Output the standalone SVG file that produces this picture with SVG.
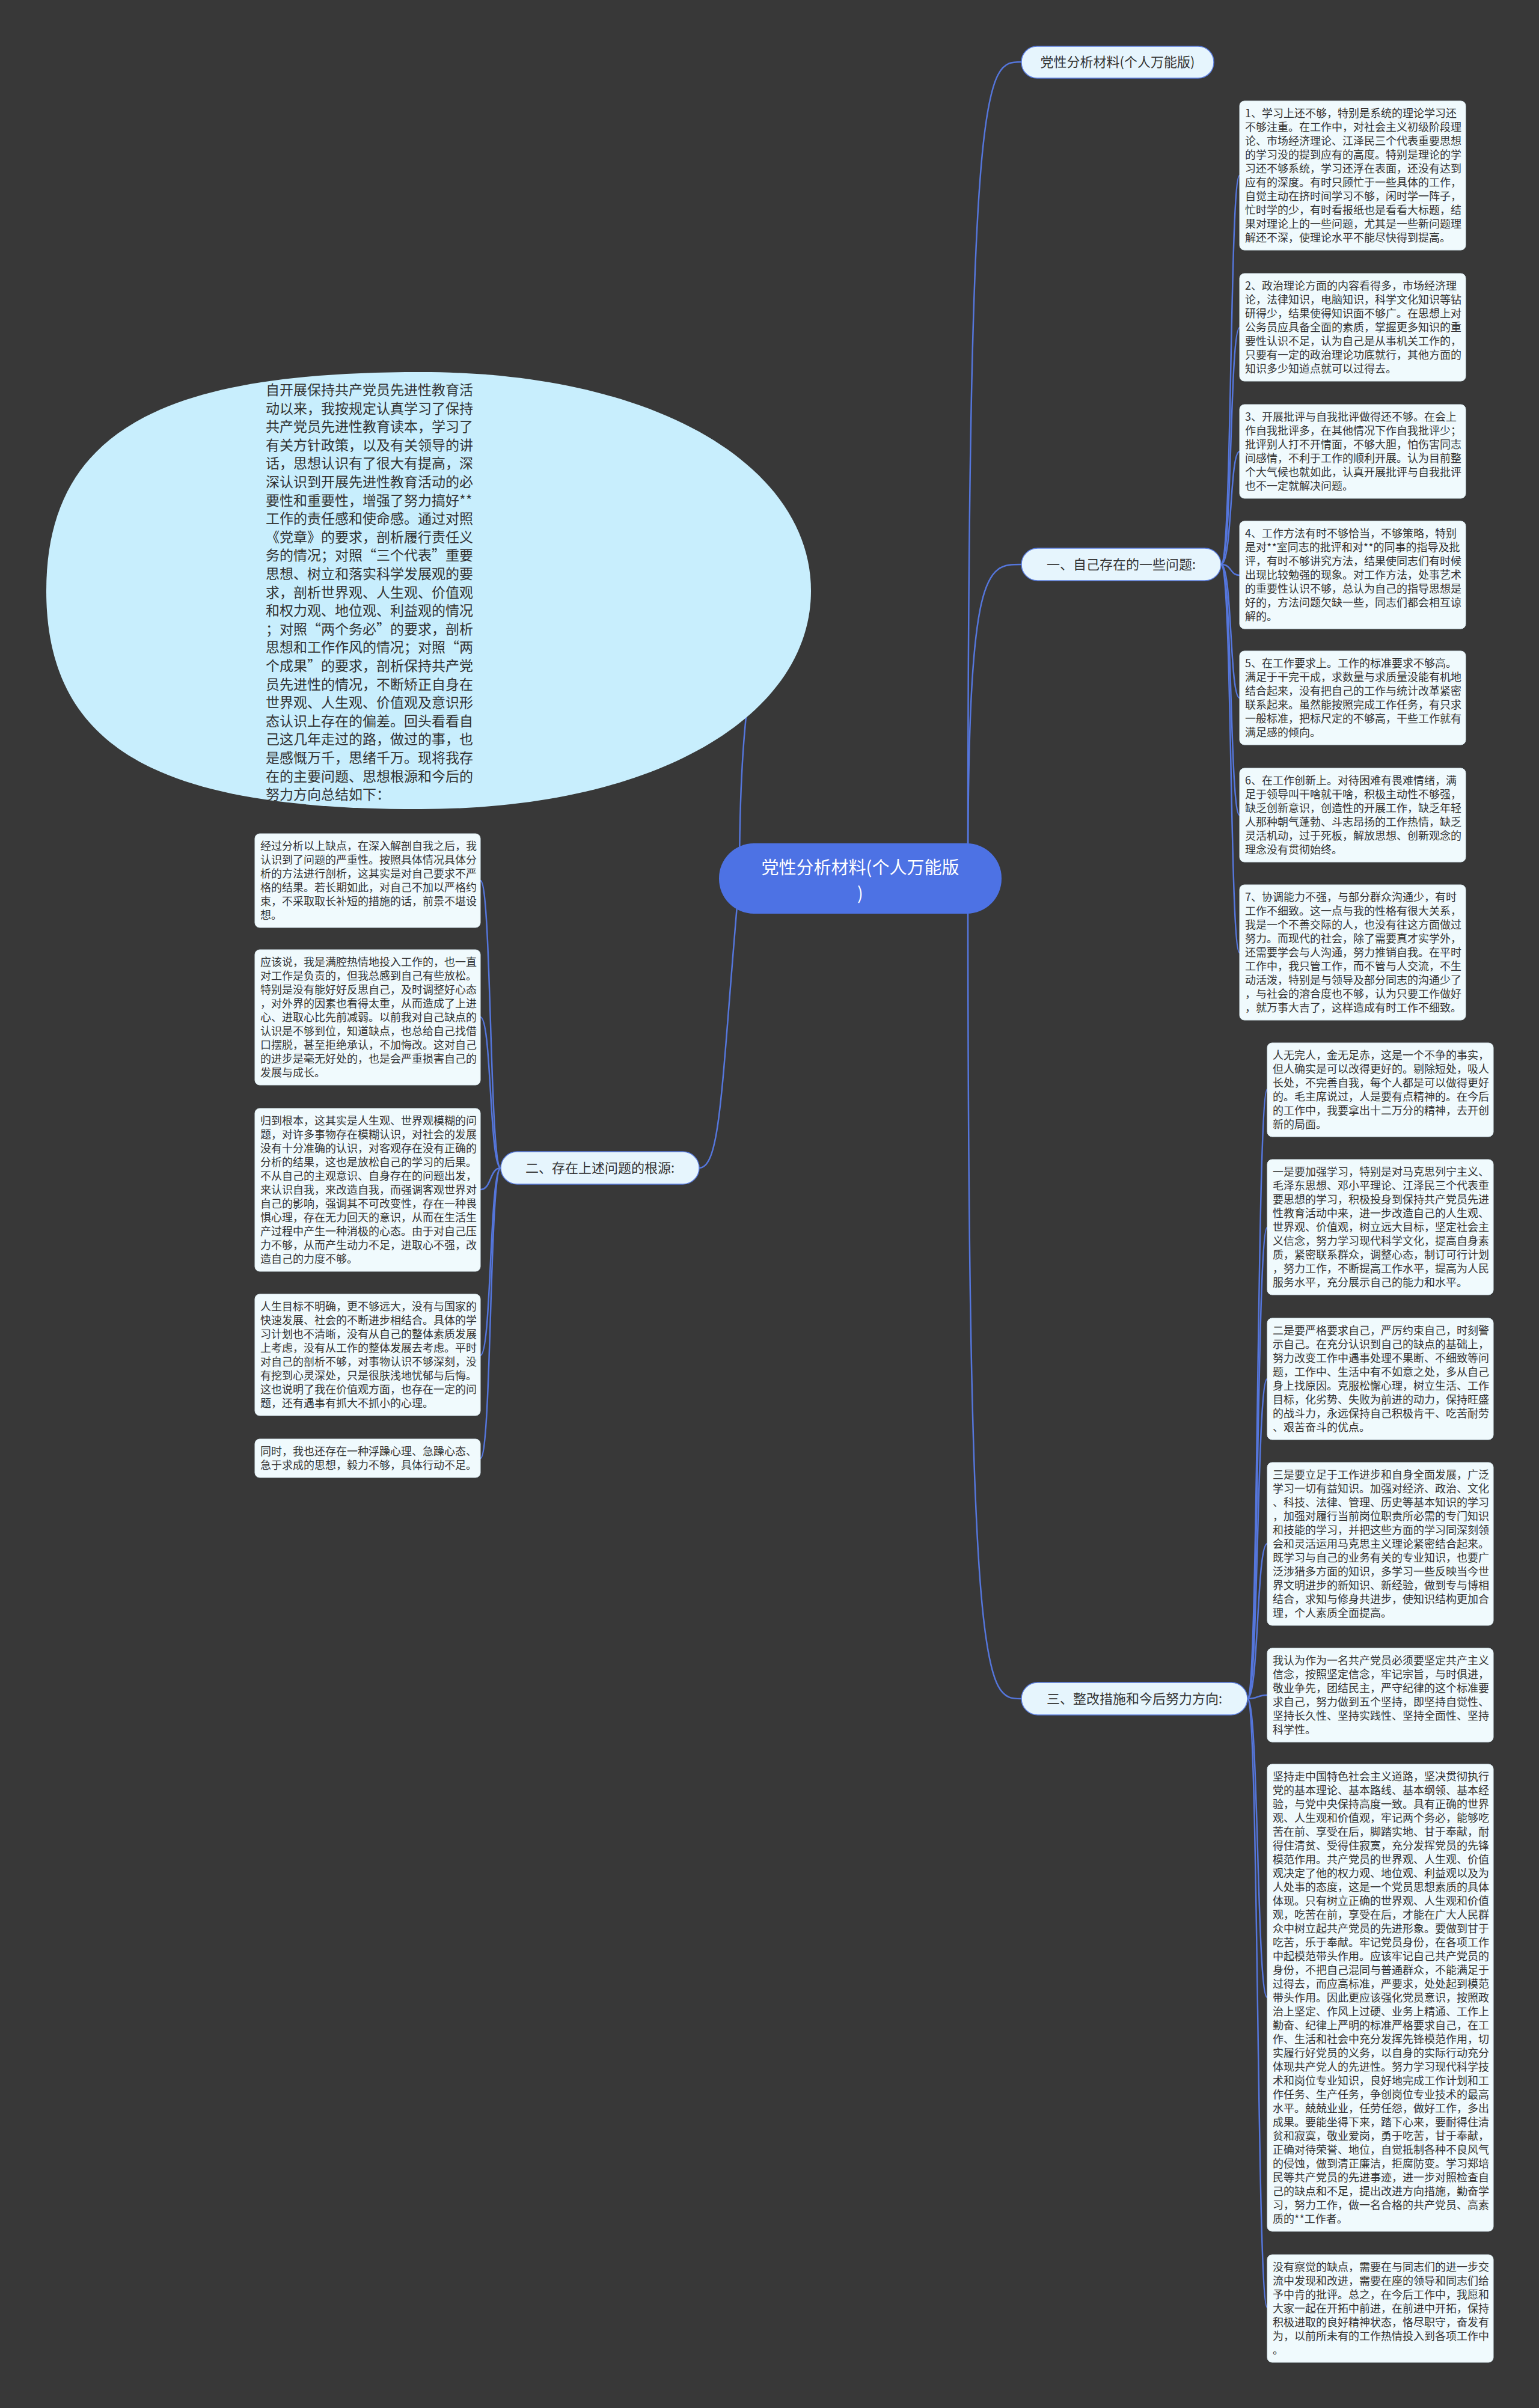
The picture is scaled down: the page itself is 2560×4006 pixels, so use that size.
<svg xmlns="http://www.w3.org/2000/svg" width="2560" height="4006" viewBox="0 0 2560 4006">
<style>
.bg{fill:#383838}
.box{fill:#f0fafd;stroke:#dcebf2;stroke-width:1}
.t{font-family:"Noto Sans CJK SC","Noto Sans",sans-serif;font-size:18px;fill:#333}
.et{font-family:"Noto Sans CJK SC","Noto Sans",sans-serif;font-size:23px;fill:#333}
.lab{fill:#e6f5fd;stroke:#5b7ee0;stroke-width:1.5}
.lt{font-family:"Noto Sans CJK SC","Noto Sans",sans-serif;font-size:22px;fill:#333}
.ct{font-family:"Noto Sans CJK SC","Noto Sans",sans-serif;font-size:29px;fill:#fff}
.c{fill:none;stroke:#5576dc;stroke-width:2.5}
</style>
<rect class="bg" x="0" y="0" width="2560" height="4006"/>
<g id="connectors">
<path class="c" d="M1610 1461 C1610 103,1640 103,1699 103"/>
<path class="c" d="M1610 1461 C1610 939,1640 939,1699 939"/>
<path class="c" d="M1610 1461 C1610 2826,1640 2826,1699 2826"/>
<path class="c" d="M1230 1461 C1200 1800,1200 1943,1163 1943"/>
<path class="c" d="M1230 1461 C1230 983,1300 983,1349 983"/>
<path class="c" d="M2031 939 C2050 939,2045 292,2062 292"/>
<path class="c" d="M2031 939 C2050 939,2045 545,2062 545"/>
<path class="c" d="M2031 939 C2050 939,2045 751,2062 751"/>
<path class="c" d="M2031 939 C2050 939,2045 957,2062 957"/>
<path class="c" d="M2031 939 C2050 939,2045 1161,2062 1161"/>
<path class="c" d="M2031 939 C2050 939,2045 1356,2062 1356"/>
<path class="c" d="M2031 939 C2050 939,2045 1585,2062 1585"/>
<path class="c" d="M2075 2826 C2094 2826,2090 1812,2108 1812"/>
<path class="c" d="M2075 2826 C2094 2826,2090 2042,2108 2042"/>
<path class="c" d="M2075 2826 C2094 2826,2090 2294,2108 2294"/>
<path class="c" d="M2075 2826 C2094 2826,2090 2568,2108 2568"/>
<path class="c" d="M2075 2826 C2094 2826,2090 2820,2108 2820"/>
<path class="c" d="M2075 2826 C2094 2826,2090 3323,2108 3323"/>
<path class="c" d="M2075 2826 C2094 2826,2090 3839,2108 3839"/>
<path class="c" d="M833 1943 C814 1943,818 1465,799 1465"/>
<path class="c" d="M833 1943 C814 1943,818 1692,799 1692"/>
<path class="c" d="M833 1943 C814 1943,818 1979,799 1979"/>
<path class="c" d="M833 1943 C814 1943,818 2255,799 2255"/>
<path class="c" d="M833 1943 C814 1943,818 2426,799 2426"/>
</g>
<g id="root">
<rect x="1196" y="1403" width="470" height="117" rx="58" fill="#4d72e4"/>
<text class="ct" x="1431" y="1454" text-anchor="middle">党性分析材料(个人万能版</text>
<text class="ct" x="1431" y="1497" text-anchor="middle">)</text>
</g>
<g id="intro">
<path d="M77 983 C77 700,300 619,700 619 C1100 619,1349 780,1349 983 C1349 1186,1100 1346,700 1346 C300 1346,77 1266,77 983 Z" fill="#c8eefd"/>
<text class="et" x="442" y="657">
<tspan x="442" dy="0">自开展保持共产党员先进性教育活</tspan>
<tspan x="442" dy="30.6">动以来，我按规定认真学习了保持</tspan>
<tspan x="442" dy="30.6">共产党员先进性教育读本，学习了</tspan>
<tspan x="442" dy="30.6">有关方针政策，以及有关领导的讲</tspan>
<tspan x="442" dy="30.6">话，思想认识有了很大有提高，深</tspan>
<tspan x="442" dy="30.6">深认识到开展先进性教育活动的必</tspan>
<tspan x="442" dy="30.6">要性和重要性，增强了努力搞好**</tspan>
<tspan x="442" dy="30.6">工作的责任感和使命感。通过对照</tspan>
<tspan x="442" dy="30.6">《党章》的要求，剖析履行责任义</tspan>
<tspan x="442" dy="30.6">务的情况；对照“三个代表”重要</tspan>
<tspan x="442" dy="30.6">思想、树立和落实科学发展观的要</tspan>
<tspan x="442" dy="30.6">求，剖析世界观、人生观、价值观</tspan>
<tspan x="442" dy="30.6">和权力观、地位观、利益观的情况</tspan>
<tspan x="442" dy="30.6">；对照“两个务必”的要求，剖析</tspan>
<tspan x="442" dy="30.6">思想和工作作风的情况；对照“两</tspan>
<tspan x="442" dy="30.6">个成果”的要求，剖析保持共产党</tspan>
<tspan x="442" dy="30.6">员先进性的情况，不断矫正自身在</tspan>
<tspan x="442" dy="30.6">世界观、人生观、价值观及意识形</tspan>
<tspan x="442" dy="30.6">态认识上存在的偏差。回头看看自</tspan>
<tspan x="442" dy="30.6">己这几年走过的路，做过的事，也</tspan>
<tspan x="442" dy="30.6">是感慨万千，思绪千万。现将我存</tspan>
<tspan x="442" dy="30.6">在的主要问题、思想根源和今后的</tspan>
<tspan x="442" dy="30.6">努力方向总结如下：</tspan>
</text>
</g>
<g id="label-top">
<rect class="lab" x="1699" y="77" width="320" height="53" rx="26"/>
<text class="lt" x="1859" y="111" text-anchor="middle">党性分析材料(个人万能版)</text>
</g>
<g id="label-1">
<rect class="lab" x="1699" y="912" width="332" height="54" rx="27"/>
<text class="lt" x="1865" y="947" text-anchor="middle">一、自己存在的一些问题:</text>
</g>
<g id="label-2">
<rect class="lab" x="833" y="1916" width="330" height="54" rx="27"/>
<text class="lt" x="998" y="1951" text-anchor="middle">二、存在上述问题的根源:</text>
</g>
<g id="label-3">
<rect class="lab" x="1699" y="2799" width="376" height="54" rx="27"/>
<text class="lt" x="1887" y="2834" text-anchor="middle">三、整改措施和今后努力方向:</text>
</g>
<g id="b1">
<rect class="box" x="2062" y="168" width="376" height="248" rx="8"/>
<text class="t" x="2071" y="195">
<tspan x="2071" dy="0">1、学习上还不够，特别是系统的理论学习还</tspan>
<tspan x="2071" dy="23">不够注重。在工作中，对社会主义初级阶段理</tspan>
<tspan x="2071" dy="23">论、市场经济理论、江泽民三个代表重要思想</tspan>
<tspan x="2071" dy="23">的学习没的提到应有的高度。特别是理论的学</tspan>
<tspan x="2071" dy="23">习还不够系统，学习还浮在表面，还没有达到</tspan>
<tspan x="2071" dy="23">应有的深度。有时只顾忙于一些具体的工作，</tspan>
<tspan x="2071" dy="23">自觉主动在挤时间学习不够，闲时学一阵子，</tspan>
<tspan x="2071" dy="23">忙时学的少，有时看报纸也是看看大标题，结</tspan>
<tspan x="2071" dy="23">果对理论上的一些问题，尤其是一些新问题理</tspan>
<tspan x="2071" dy="23">解还不深，使理论水平不能尽快得到提高。</tspan>
</text>
</g>
<g id="b2">
<rect class="box" x="2062" y="455" width="376" height="179" rx="8"/>
<text class="t" x="2071" y="482">
<tspan x="2071" dy="0">2、政治理论方面的内容看得多，市场经济理</tspan>
<tspan x="2071" dy="23">论，法律知识，电脑知识，科学文化知识等钻</tspan>
<tspan x="2071" dy="23">研得少，结果使得知识面不够广。在思想上对</tspan>
<tspan x="2071" dy="23">公务员应具备全面的素质，掌握更多知识的重</tspan>
<tspan x="2071" dy="23">要性认识不足，认为自己是从事机关工作的，</tspan>
<tspan x="2071" dy="23">只要有一定的政治理论功底就行，其他方面的</tspan>
<tspan x="2071" dy="23">知识多少知道点就可以过得去。</tspan>
</text>
</g>
<g id="b3">
<rect class="box" x="2062" y="673" width="376" height="156" rx="8"/>
<text class="t" x="2071" y="700">
<tspan x="2071" dy="0">3、开展批评与自我批评做得还不够。在会上</tspan>
<tspan x="2071" dy="23">作自我批评多，在其他情况下作自我批评少；</tspan>
<tspan x="2071" dy="23">批评别人打不开情面，不够大胆，怕伤害同志</tspan>
<tspan x="2071" dy="23">间感情，不利于工作的顺利开展。认为目前整</tspan>
<tspan x="2071" dy="23">个大气候也就如此，认真开展批评与自我批评</tspan>
<tspan x="2071" dy="23">也不一定就解决问题。</tspan>
</text>
</g>
<g id="b4">
<rect class="box" x="2062" y="867" width="376" height="179" rx="8"/>
<text class="t" x="2071" y="894">
<tspan x="2071" dy="0">4、工作方法有时不够恰当，不够策略，特别</tspan>
<tspan x="2071" dy="23">是对**室同志的批评和对**的同事的指导及批</tspan>
<tspan x="2071" dy="23">评，有时不够讲究方法，结果使同志们有时候</tspan>
<tspan x="2071" dy="23">出现比较勉强的现象。对工作方法，处事艺术</tspan>
<tspan x="2071" dy="23">的重要性认识不够，总认为自己的指导思想是</tspan>
<tspan x="2071" dy="23">好的，方法问题欠缺一些，同志们都会相互谅</tspan>
<tspan x="2071" dy="23">解的。</tspan>
</text>
</g>
<g id="b5">
<rect class="box" x="2062" y="1083" width="376" height="156" rx="8"/>
<text class="t" x="2071" y="1110">
<tspan x="2071" dy="0">5、在工作要求上。工作的标准要求不够高。</tspan>
<tspan x="2071" dy="23">满足于干完干成，求数量与求质量没能有机地</tspan>
<tspan x="2071" dy="23">结合起来，没有把自己的工作与统计改革紧密</tspan>
<tspan x="2071" dy="23">联系起来。虽然能按照完成工作任务，有只求</tspan>
<tspan x="2071" dy="23">一般标准，把标尺定的不够高，干些工作就有</tspan>
<tspan x="2071" dy="23">满足感的倾向。</tspan>
</text>
</g>
<g id="b6">
<rect class="box" x="2062" y="1278" width="376" height="156" rx="8"/>
<text class="t" x="2071" y="1305">
<tspan x="2071" dy="0">6、在工作创新上。对待困难有畏难情绪，满</tspan>
<tspan x="2071" dy="23">足于领导叫干啥就干啥，积极主动性不够强，</tspan>
<tspan x="2071" dy="23">缺乏创新意识，创造性的开展工作，缺乏年轻</tspan>
<tspan x="2071" dy="23">人那种朝气蓬勃、斗志昂扬的工作热情，缺乏</tspan>
<tspan x="2071" dy="23">灵活机动，过于死板，解放思想、创新观念的</tspan>
<tspan x="2071" dy="23">理念没有贯彻始终。</tspan>
</text>
</g>
<g id="b7">
<rect class="box" x="2062" y="1472" width="376" height="225" rx="8"/>
<text class="t" x="2071" y="1499">
<tspan x="2071" dy="0">7、协调能力不强，与部分群众沟通少，有时</tspan>
<tspan x="2071" dy="23">工作不细致。这一点与我的性格有很大关系，</tspan>
<tspan x="2071" dy="23">我是一个不善交际的人，也没有往这方面做过</tspan>
<tspan x="2071" dy="23">努力。而现代的社会，除了需要真才实学外，</tspan>
<tspan x="2071" dy="23">还需要学会与人沟通，努力推销自我。在平时</tspan>
<tspan x="2071" dy="23">工作中，我只管工作，而不管与人交流，不生</tspan>
<tspan x="2071" dy="23">动活泼，特别是与领导及部分同志的沟通少了</tspan>
<tspan x="2071" dy="23">，与社会的溶合度也不够，认为只要工作做好</tspan>
<tspan x="2071" dy="23">，就万事大吉了，这样造成有时工作不细致。</tspan>
</text>
</g>
<g id="b8">
<rect class="box" x="2108" y="1735" width="376" height="156" rx="8"/>
<text class="t" x="2117" y="1762">
<tspan x="2117" dy="0">人无完人，金无足赤，这是一个不争的事实，</tspan>
<tspan x="2117" dy="23">但人确实是可以改得更好的。剔除短处，吸人</tspan>
<tspan x="2117" dy="23">长处，不完善自我，每个人都是可以做得更好</tspan>
<tspan x="2117" dy="23">的。毛主席说过，人是要有点精神的。在今后</tspan>
<tspan x="2117" dy="23">的工作中，我要拿出十二万分的精神，去开创</tspan>
<tspan x="2117" dy="23">新的局面。</tspan>
</text>
</g>
<g id="b9">
<rect class="box" x="2108" y="1929" width="376" height="225" rx="8"/>
<text class="t" x="2117" y="1956">
<tspan x="2117" dy="0">一是要加强学习，特别是对马克思列宁主义、</tspan>
<tspan x="2117" dy="23">毛泽东思想、邓小平理论、江泽民三个代表重</tspan>
<tspan x="2117" dy="23">要思想的学习，积极投身到保持共产党员先进</tspan>
<tspan x="2117" dy="23">性教育活动中来，进一步改造自己的人生观、</tspan>
<tspan x="2117" dy="23">世界观、价值观，树立远大目标，坚定社会主</tspan>
<tspan x="2117" dy="23">义信念，努力学习现代科学文化，提高自身素</tspan>
<tspan x="2117" dy="23">质，紧密联系群众，调整心态，制订可行计划</tspan>
<tspan x="2117" dy="23">，努力工作，不断提高工作水平，提高为人民</tspan>
<tspan x="2117" dy="23">服务水平，充分展示自己的能力和水平。</tspan>
</text>
</g>
<g id="b10">
<rect class="box" x="2108" y="2193" width="376" height="202" rx="8"/>
<text class="t" x="2117" y="2220">
<tspan x="2117" dy="0">二是要严格要求自己，严厉约束自己，时刻警</tspan>
<tspan x="2117" dy="23">示自己。在充分认识到自己的缺点的基础上，</tspan>
<tspan x="2117" dy="23">努力改变工作中遇事处理不果断、不细致等问</tspan>
<tspan x="2117" dy="23">题，工作中、生活中有不如意之处，多从自己</tspan>
<tspan x="2117" dy="23">身上找原因。克服松懈心理，树立生活、工作</tspan>
<tspan x="2117" dy="23">目标，化劣势、失败为前进的动力，保持旺盛</tspan>
<tspan x="2117" dy="23">的战斗力，永远保持自己积极肯干、吃苦耐劳</tspan>
<tspan x="2117" dy="23">、艰苦奋斗的优点。</tspan>
</text>
</g>
<g id="b11">
<rect class="box" x="2108" y="2433" width="376" height="271" rx="8"/>
<text class="t" x="2117" y="2460">
<tspan x="2117" dy="0">三是要立足于工作进步和自身全面发展，广泛</tspan>
<tspan x="2117" dy="23">学习一切有益知识。加强对经济、政治、文化</tspan>
<tspan x="2117" dy="23">、科技、法律、管理、历史等基本知识的学习</tspan>
<tspan x="2117" dy="23">，加强对履行当前岗位职责所必需的专门知识</tspan>
<tspan x="2117" dy="23">和技能的学习，并把这些方面的学习同深刻领</tspan>
<tspan x="2117" dy="23">会和灵活运用马克思主义理论紧密结合起来。</tspan>
<tspan x="2117" dy="23">既学习与自己的业务有关的专业知识，也要广</tspan>
<tspan x="2117" dy="23">泛涉猎多方面的知识，多学习一些反映当今世</tspan>
<tspan x="2117" dy="23">界文明进步的新知识、新经验，做到专与博相</tspan>
<tspan x="2117" dy="23">结合，求知与修身共进步，使知识结构更加合</tspan>
<tspan x="2117" dy="23">理，个人素质全面提高。</tspan>
</text>
</g>
<g id="b12">
<rect class="box" x="2108" y="2742" width="376" height="156" rx="8"/>
<text class="t" x="2117" y="2769">
<tspan x="2117" dy="0">我认为作为一名共产党员必须要坚定共产主义</tspan>
<tspan x="2117" dy="23">信念，按照坚定信念，牢记宗旨，与时俱进，</tspan>
<tspan x="2117" dy="23">敬业争先，团结民主，严守纪律的这个标准要</tspan>
<tspan x="2117" dy="23">求自己，努力做到五个坚持，即坚持自觉性、</tspan>
<tspan x="2117" dy="23">坚持长久性、坚持实践性、坚持全面性、坚持</tspan>
<tspan x="2117" dy="23">科学性。</tspan>
</text>
</g>
<g id="b13">
<rect class="box" x="2108" y="2935" width="376" height="777" rx="8"/>
<text class="t" x="2117" y="2962">
<tspan x="2117" dy="0">坚持走中国特色社会主义道路，坚决贯彻执行</tspan>
<tspan x="2117" dy="23">党的基本理论、基本路线、基本纲领、基本经</tspan>
<tspan x="2117" dy="23">验，与党中央保持高度一致。具有正确的世界</tspan>
<tspan x="2117" dy="23">观、人生观和价值观，牢记两个务必，能够吃</tspan>
<tspan x="2117" dy="23">苦在前、享受在后，脚踏实地、甘于奉献，耐</tspan>
<tspan x="2117" dy="23">得住清贫、受得住寂寞，充分发挥党员的先锋</tspan>
<tspan x="2117" dy="23">模范作用。共产党员的世界观、人生观、价值</tspan>
<tspan x="2117" dy="23">观决定了他的权力观、地位观、利益观以及为</tspan>
<tspan x="2117" dy="23">人处事的态度，这是一个党员思想素质的具体</tspan>
<tspan x="2117" dy="23">体现。只有树立正确的世界观、人生观和价值</tspan>
<tspan x="2117" dy="23">观，吃苦在前，享受在后，才能在广大人民群</tspan>
<tspan x="2117" dy="23">众中树立起共产党员的先进形象。要做到甘于</tspan>
<tspan x="2117" dy="23">吃苦，乐于奉献。牢记党员身份，在各项工作</tspan>
<tspan x="2117" dy="23">中起模范带头作用。应该牢记自己共产党员的</tspan>
<tspan x="2117" dy="23">身份，不把自己混同与普通群众，不能满足于</tspan>
<tspan x="2117" dy="23">过得去，而应高标准，严要求，处处起到模范</tspan>
<tspan x="2117" dy="23">带头作用。因此更应该强化党员意识，按照政</tspan>
<tspan x="2117" dy="23">治上坚定、作风上过硬、业务上精通、工作上</tspan>
<tspan x="2117" dy="23">勤奋、纪律上严明的标准严格要求自己，在工</tspan>
<tspan x="2117" dy="23">作、生活和社会中充分发挥先锋模范作用，切</tspan>
<tspan x="2117" dy="23">实履行好党员的义务，以自身的实际行动充分</tspan>
<tspan x="2117" dy="23">体现共产党人的先进性。努力学习现代科学技</tspan>
<tspan x="2117" dy="23">术和岗位专业知识，良好地完成工作计划和工</tspan>
<tspan x="2117" dy="23">作任务、生产任务，争创岗位专业技术的最高</tspan>
<tspan x="2117" dy="23">水平。兢兢业业，任劳任怨，做好工作，多出</tspan>
<tspan x="2117" dy="23">成果。要能坐得下来，踏下心来，要耐得住清</tspan>
<tspan x="2117" dy="23">贫和寂寞，敬业爱岗，勇于吃苦，甘于奉献，</tspan>
<tspan x="2117" dy="23">正确对待荣誉、地位，自觉抵制各种不良风气</tspan>
<tspan x="2117" dy="23">的侵蚀，做到清正廉洁，拒腐防变。学习郑培</tspan>
<tspan x="2117" dy="23">民等共产党员的先进事迹，进一步对照检查自</tspan>
<tspan x="2117" dy="23">己的缺点和不足，提出改进方向措施，勤奋学</tspan>
<tspan x="2117" dy="23">习，努力工作，做一名合格的共产党员、高素</tspan>
<tspan x="2117" dy="23">质的**工作者。</tspan>
</text>
</g>
<g id="b14">
<rect class="box" x="2108" y="3751" width="376" height="179" rx="8"/>
<text class="t" x="2117" y="3778">
<tspan x="2117" dy="0">没有察觉的缺点，需要在与同志们的进一步交</tspan>
<tspan x="2117" dy="23">流中发现和改进，需要在座的领导和同志们给</tspan>
<tspan x="2117" dy="23">予中肯的批评。总之，在今后工作中，我愿和</tspan>
<tspan x="2117" dy="23">大家一起在开拓中前进，在前进中开拓，保持</tspan>
<tspan x="2117" dy="23">积极进取的良好精神状态，恪尽职守，奋发有</tspan>
<tspan x="2117" dy="23">为，以前所未有的工作热情投入到各项工作中</tspan>
<tspan x="2117" dy="23">。</tspan>
</text>
</g>
<g id="l1">
<rect class="box" x="424" y="1387" width="375" height="156" rx="8"/>
<text class="t" x="433" y="1414">
<tspan x="433" dy="0">经过分析以上缺点，在深入解剖自我之后，我</tspan>
<tspan x="433" dy="23">认识到了问题的严重性。按照具体情况具体分</tspan>
<tspan x="433" dy="23">析的方法进行剖析，这其实是对自己要求不严</tspan>
<tspan x="433" dy="23">格的结果。若长期如此，对自己不加以严格约</tspan>
<tspan x="433" dy="23">束，不采取取长补短的措施的话，前景不堪设</tspan>
<tspan x="433" dy="23">想。</tspan>
</text>
</g>
<g id="l2">
<rect class="box" x="424" y="1580" width="375" height="225" rx="8"/>
<text class="t" x="433" y="1607">
<tspan x="433" dy="0">应该说，我是满腔热情地投入工作的，也一直</tspan>
<tspan x="433" dy="23">对工作是负责的，但我总感到自己有些放松。</tspan>
<tspan x="433" dy="23">特别是没有能好好反思自己，及时调整好心态</tspan>
<tspan x="433" dy="23">，对外界的因素也看得太重，从而造成了上进</tspan>
<tspan x="433" dy="23">心、进取心比先前减弱。以前我对自己缺点的</tspan>
<tspan x="433" dy="23">认识是不够到位，知道缺点，也总给自己找借</tspan>
<tspan x="433" dy="23">口摆脱，甚至拒绝承认，不加悔改。这对自己</tspan>
<tspan x="433" dy="23">的进步是毫无好处的，也是会严重损害自己的</tspan>
<tspan x="433" dy="23">发展与成长。</tspan>
</text>
</g>
<g id="l3">
<rect class="box" x="424" y="1844" width="375" height="271" rx="8"/>
<text class="t" x="433" y="1871">
<tspan x="433" dy="0">归到根本，这其实是人生观、世界观模糊的问</tspan>
<tspan x="433" dy="23">题，对许多事物存在模糊认识，对社会的发展</tspan>
<tspan x="433" dy="23">没有十分准确的认识，对客观存在没有正确的</tspan>
<tspan x="433" dy="23">分析的结果，这也是放松自己的学习的后果。</tspan>
<tspan x="433" dy="23">不从自己的主观意识、自身存在的问题出发，</tspan>
<tspan x="433" dy="23">来认识自我，来改造自我，而强调客观世界对</tspan>
<tspan x="433" dy="23">自己的影响，强调其不可改变性，存在一种畏</tspan>
<tspan x="433" dy="23">惧心理，存在无力回天的意识，从而在生活生</tspan>
<tspan x="433" dy="23">产过程中产生一种消极的心态。由于对自己压</tspan>
<tspan x="433" dy="23">力不够，从而产生动力不足，进取心不强，改</tspan>
<tspan x="433" dy="23">造自己的力度不够。</tspan>
</text>
</g>
<g id="l4">
<rect class="box" x="424" y="2153" width="375" height="202" rx="8"/>
<text class="t" x="433" y="2180">
<tspan x="433" dy="0">人生目标不明确，更不够远大，没有与国家的</tspan>
<tspan x="433" dy="23">快速发展、社会的不断进步相结合。具体的学</tspan>
<tspan x="433" dy="23">习计划也不清晰，没有从自己的整体素质发展</tspan>
<tspan x="433" dy="23">上考虑，没有从工作的整体发展去考虑。平时</tspan>
<tspan x="433" dy="23">对自己的剖析不够，对事物认识不够深刻，没</tspan>
<tspan x="433" dy="23">有挖到心灵深处，只是很肤浅地忧郁与后悔。</tspan>
<tspan x="433" dy="23">这也说明了我在价值观方面，也存在一定的问</tspan>
<tspan x="433" dy="23">题，还有遇事有抓大不抓小的心理。</tspan>
</text>
</g>
<g id="l5">
<rect class="box" x="424" y="2394" width="375" height="64" rx="8"/>
<text class="t" x="433" y="2421">
<tspan x="433" dy="0">同时，我也还存在一种浮躁心理、急躁心态、</tspan>
<tspan x="433" dy="23">急于求成的思想，毅力不够，具体行动不足。</tspan>
</text>
</g>
</svg>
